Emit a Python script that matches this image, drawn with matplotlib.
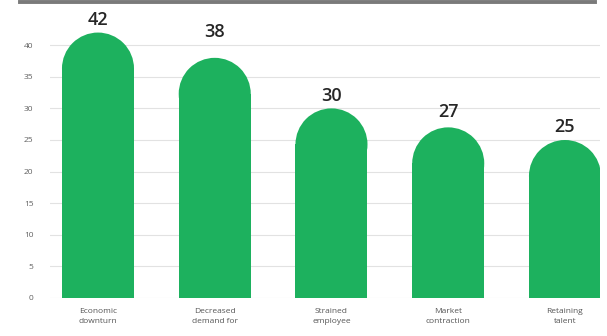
import matplotlib
matplotlib.use("Agg")
import matplotlib.pyplot as plt
from matplotlib.patches import Rectangle, Ellipse
from matplotlib.lines import Line2D

categories = ["Economic\ndownturn", "Decreased\ndemand for", "Strained\nemployee",
              "Market\ncontraction", "Retaining\ntalent"]
values = [42, 38, 30, 27, 25]
yticks = [0, 5, 10, 15, 20, 25, 30, 35, 40]

green = "#1db15e"
W, H, DPI = 6.07, 3.36, 100

fig = plt.figure(figsize=(W, H), dpi=DPI)
# axes box in pixels: left 50, right 600, baseline at 298 from top, 6.32 px per unit
ymax = 44
ax_h_px = ymax * 6.32
ax = fig.add_axes([50 / 607, 38 / 336, 550 / 607, ax_h_px / 336])
ax.set_xlim(-0.411, 4.30)
ax.set_ylim(0, ymax)

bar_w = 0.617
# radius of the rounded cap, in data units (half bar width in pixels / px per unit)
px_per_x = 550 / (4.30 + 0.411)
r_y = (bar_w / 2 * px_per_x) / 6.32
# gap between the top of each bar and its number (hand placed)
label_gap = [1.2, 3.3, 1.2, 1.6, 1.3]

for i, v in enumerate(values):
    ax.add_patch(Rectangle((i - bar_w / 2, 0), bar_w, v - r_y + 0.05,
                           facecolor=green, edgecolor="none", zorder=3))
    ax.add_patch(Ellipse((i, v - r_y), bar_w, 2 * r_y,
                         facecolor=green, edgecolor="none", zorder=3))
    ax.text(i, v + label_gap[i], str(v), ha="center", va="baseline",
            fontsize=13, family="Open Sans", weight="semibold",
            color="#262626", clip_on=False)

ax.set_yticks(yticks)
ax.set_yticklabels([str(t) for t in yticks], fontsize=6, color="#606060",
                   family="Open Sans")
ax.set_xticks(range(len(categories)))
ax.set_xticklabels(categories, fontsize=6, color="#555555",
                   family="Open Sans", linespacing=1.6)
ax.tick_params(axis="y", length=0, pad=12)
ax.tick_params(axis="x", length=0, pad=7)
ax.grid(axis="y", color="#e2e2e2", linewidth=0.8, zorder=0)
for s in ax.spines.values():
    s.set_visible(False)

# dark rule across the top
fig.add_artist(Line2D([20 / 607, 595 / 607], [1 - 2 / 336, 1 - 2 / 336],
                      color="#7a7a7a", linewidth=2.8))

fig.savefig("out.png", dpi=DPI)
